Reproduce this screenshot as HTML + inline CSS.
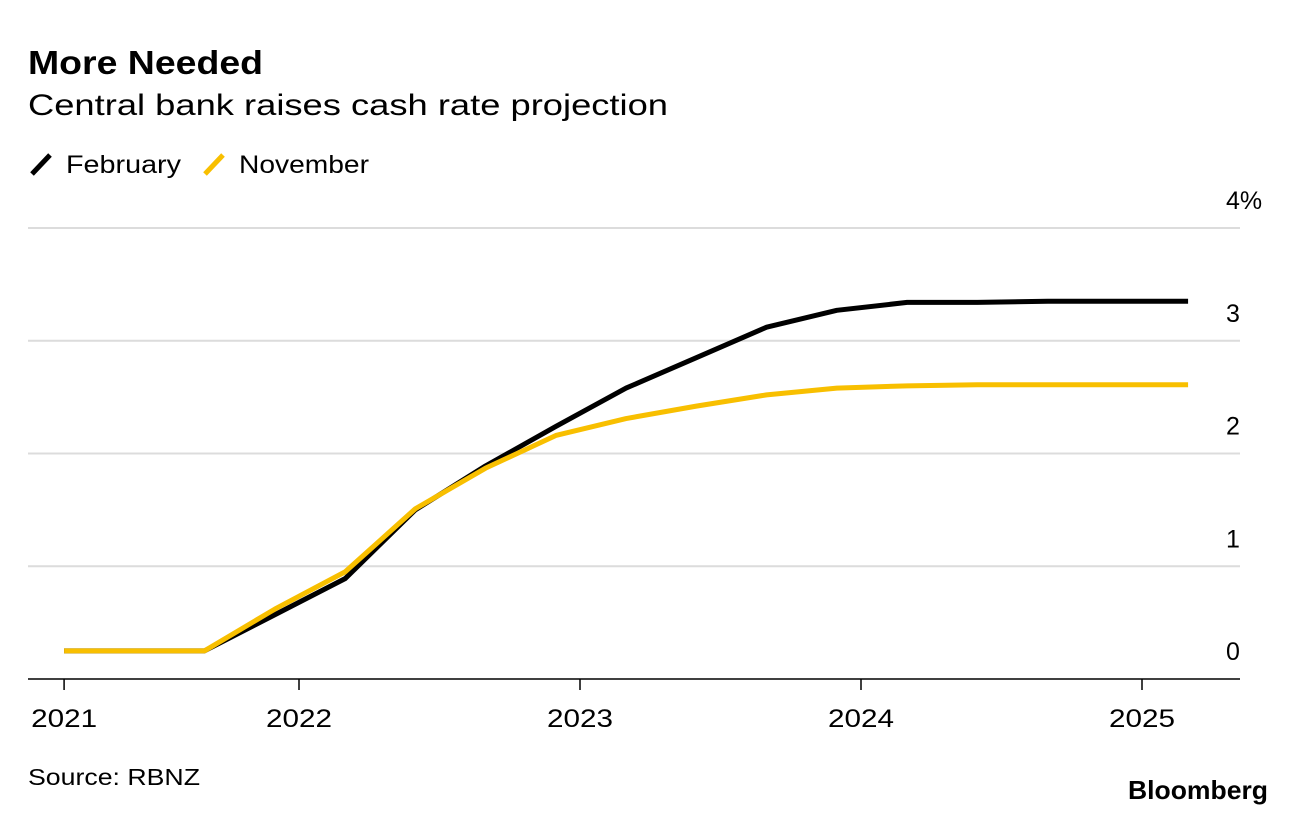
<!DOCTYPE html>
<html><head><meta charset="utf-8"><style>
body{margin:0;background:#fff;font-family:"Liberation Sans",sans-serif;}
svg text{font-family:"Liberation Sans",sans-serif;}
</style></head><body>
<svg id="c" width="1296" height="816">
<text x="28" y="74" font-size="33" font-weight="bold" fill="#000" textLength="235" lengthAdjust="spacingAndGlyphs">More Needed</text>
<text x="28" y="115" font-size="30" fill="#000" textLength="640" lengthAdjust="spacingAndGlyphs">Central bank raises cash rate projection</text>
<g>
<line x1="32" y1="174" x2="50" y2="155" stroke="#000" stroke-width="5"/>
<text x="66" y="173" font-size="25" textLength="115" lengthAdjust="spacingAndGlyphs">February</text></g>
<g>
<line x1="205" y1="174" x2="223" y2="155" stroke="#f8bf00" stroke-width="5"/>
<text x="239" y="173" font-size="25" textLength="130" lengthAdjust="spacingAndGlyphs">November</text></g>
<g id="grid"></g><g id="series"></g>
<text x="28" y="785" font-size="23" textLength="172" lengthAdjust="spacingAndGlyphs">Source: RBNZ</text>
<text x="1128" y="799" font-size="26" font-weight="bold" textLength="140" lengthAdjust="spacingAndGlyphs">Bloomberg</text>
</svg>
<script>
const yTicks=[0,1,2,3,4];
const yLabels=["0","1","2","3","4%"];
const xYears=[2021,2022,2023,2024,2025];
const xYearPos=[2021.164,2022.0,2023.0,2024.0,2025.0];
const quarters=[2021.164,2021.414,2021.664,2021.914,2022.164,2022.414,2022.664,2022.914,2023.164,2023.414,2023.664,2023.914,2024.164,2024.414,2024.664,2024.914,2025.164];
const february=[0.25,0.25,0.25,0.57,0.89,1.5,1.89,2.24,2.58,2.85,3.12,3.27,3.34,3.34,3.35,3.35,3.35];
const november=[0.25,0.25,0.25,0.62,0.95,1.51,1.87,2.16,2.31,2.42,2.52,2.58,2.6,2.61,2.61,2.61,2.61];
const NS="http://www.w3.org/2000/svg";
const x=v=>299+(v-2022)*281;
const y=v=>679-v*112.75;
const g=document.getElementById('grid'),s=document.getElementById('series');
function mk(t,a,p){const e=document.createElementNS(NS,t);for(const k in a)e.setAttribute(k,a[k]);p.appendChild(e);return e;}
yTicks.forEach((v,i)=>{
 const l=mk('line',{x1:28,x2:1240,y1:y(v),y2:y(v),stroke:v===0?'#000':'#dcdcdc','stroke-width':v===0?1.5:2},g);
 
 
 const t=mk('text',{x:1226,y:y(v)-19,'font-size':25},g);t.textContent=yLabels[i];
 
 
});
xYears.forEach((yr,i)=>{
 const px=x(xYearPos[i]);
 const l=mk('line',{x1:px,x2:px,y1:679,y2:690,stroke:'#000','stroke-width':1.5},g);
 
 
 const t=mk('text',{x:px,y:727,'font-size':25,'text-anchor':'middle',textLength:66,lengthAdjust:'spacingAndGlyphs'},g);t.textContent=yr;
 
 
});
function line(vals,col,name){
 const d=vals.map((v,i)=>(i?'L':'M')+x(quarters[i])+','+y(v)).join('');
 const p=mk('path',{d:d,fill:'none',stroke:col,'stroke-width':5,'stroke-linejoin':'round'},s);
 
 
}
line(february,'#000','february-line');
line(november,'#f8bf00','november-line');
</script>
</body></html>
